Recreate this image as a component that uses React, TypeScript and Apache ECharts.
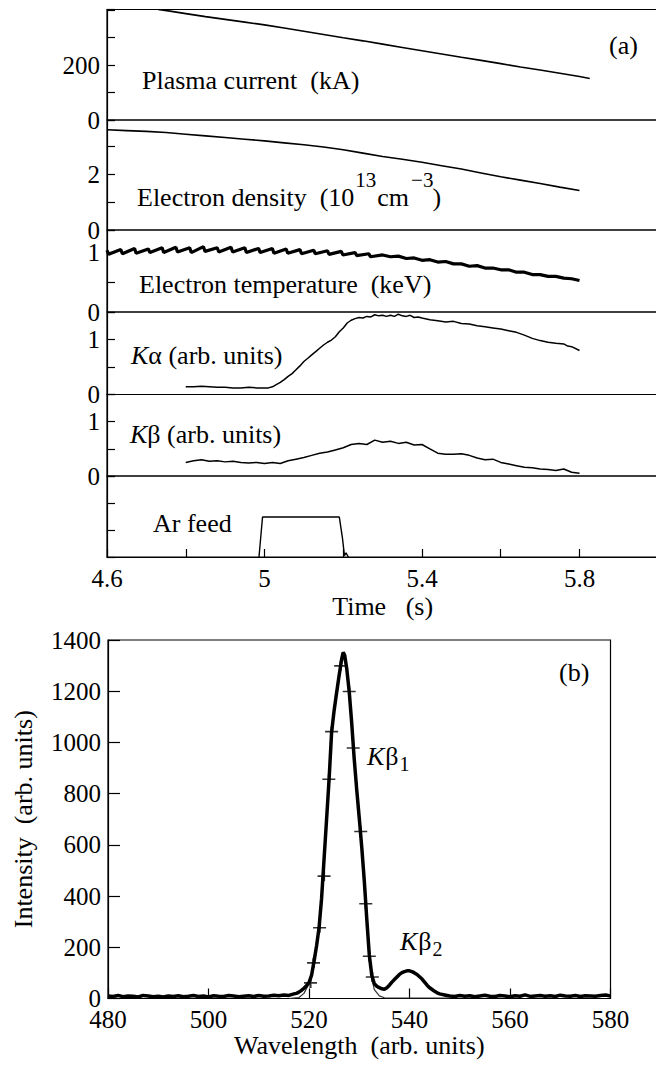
import React, { useEffect, useRef } from 'react';
import * as echarts from 'echarts';

// ---------- DATA ----------
const timeLabelsShown = [4.6, 5, 5.4, 5.8];

const plasmaCurrent: [number, number][] = [
  [4.73, 402], [4.76, 396], [4.8, 387], [4.85, 376], [4.9, 366], [4.95, 356], [5.0, 346],
  [5.05, 335], [5.1, 323], [5.15, 311], [5.2, 299], [5.25, 288], [5.3, 276], [5.35, 264],
  [5.4, 252], [5.45, 240], [5.5, 228], [5.55, 217], [5.6, 205], [5.65, 193], [5.7, 182],
  [5.75, 170], [5.8, 158], [5.826, 151],
];

const electronDensity: [number, number][] = [
  [4.6, 3.6], [4.65, 3.57], [4.7, 3.54], [4.75, 3.5], [4.8, 3.44], [4.85, 3.38], [4.9, 3.32],
  [4.95, 3.26], [5.0, 3.2], [5.05, 3.13], [5.1, 3.06], [5.15, 2.98], [5.2, 2.88], [5.25, 2.76],
  [5.3, 2.64], [5.35, 2.54], [5.4, 2.43], [5.45, 2.31], [5.5, 2.19], [5.55, 2.05], [5.6, 1.91],
  [5.65, 1.79], [5.7, 1.67], [5.75, 1.54], [5.8, 1.42],
];

const electronTemp: [number, number][] = [
  [4.6, 1.04], [4.604, 0.97], [4.635, 1.05], [4.639, 0.98], [4.67, 1.07], [4.674, 0.99],
  [4.705, 1.06], [4.709, 1.0], [4.74, 1.08], [4.744, 1.0], [4.775, 1.09], [4.779, 1.01],
  [4.81, 1.08], [4.814, 1.0], [4.845, 1.1], [4.849, 1.02], [4.88, 1.08], [4.884, 1.01],
  [4.915, 1.09], [4.919, 1.01], [4.95, 1.08], [4.954, 1.0], [4.985, 1.07], [4.989, 1.0],
  [5.02, 1.07], [5.024, 0.99], [5.055, 1.06], [5.059, 0.99], [5.09, 1.05], [5.094, 0.98],
  [5.125, 1.04], [5.129, 0.98], [5.16, 1.03], [5.164, 0.97], [5.195, 1.02], [5.199, 0.96],
  [5.23, 1.0], [5.234, 0.95], [5.265, 0.98], [5.269, 0.93], [5.3, 0.96], [5.32, 0.93],
  [5.34, 0.94], [5.36, 0.9], [5.38, 0.91], [5.4, 0.87], [5.42, 0.88], [5.44, 0.84],
  [5.46, 0.85], [5.48, 0.81], [5.5, 0.81], [5.52, 0.77], [5.54, 0.78], [5.56, 0.74],
  [5.58, 0.74], [5.6, 0.71], [5.62, 0.71], [5.64, 0.67], [5.66, 0.67], [5.68, 0.63],
  [5.7, 0.63], [5.72, 0.6], [5.74, 0.6], [5.76, 0.57], [5.78, 0.56], [5.8, 0.53],
];

const kAlpha: [number, number][] = [
  [4.8, 0.14], [4.82, 0.14], [4.84, 0.15], [4.86, 0.14], [4.88, 0.13], [4.9, 0.13],
  [4.92, 0.12], [4.94, 0.12], [4.96, 0.13], [4.98, 0.12], [5.0, 0.12], [5.01, 0.12],
  [5.02, 0.14], [5.03, 0.18], [5.04, 0.22], [5.05, 0.27], [5.06, 0.33], [5.07, 0.38],
  [5.08, 0.45], [5.09, 0.52], [5.1, 0.6], [5.11, 0.66], [5.12, 0.72], [5.13, 0.78],
  [5.14, 0.84], [5.15, 0.9], [5.16, 0.95], [5.17, 0.99], [5.18, 1.05], [5.19, 1.14],
  [5.2, 1.21], [5.21, 1.3], [5.22, 1.35], [5.23, 1.38], [5.24, 1.4], [5.25, 1.39],
  [5.26, 1.42], [5.27, 1.41], [5.28, 1.45], [5.29, 1.43], [5.3, 1.44], [5.31, 1.42],
  [5.32, 1.44], [5.33, 1.42], [5.34, 1.46], [5.35, 1.43], [5.36, 1.42], [5.37, 1.44],
  [5.38, 1.4], [5.39, 1.41], [5.4, 1.39], [5.42, 1.36], [5.44, 1.34], [5.46, 1.32],
  [5.48, 1.33], [5.5, 1.29], [5.52, 1.28], [5.54, 1.25], [5.56, 1.23], [5.58, 1.21],
  [5.6, 1.19], [5.62, 1.16], [5.64, 1.13], [5.66, 1.08], [5.68, 1.02], [5.7, 0.98],
  [5.72, 0.95], [5.74, 0.93], [5.76, 0.92], [5.77, 0.88], [5.78, 0.87], [5.8, 0.8],
];

const kBeta: [number, number][] = [
  [4.8, 0.25], [4.82, 0.28], [4.84, 0.3], [4.86, 0.27], [4.88, 0.28], [4.9, 0.26],
  [4.92, 0.27], [4.94, 0.25], [4.96, 0.24], [4.98, 0.25], [5.0, 0.23], [5.02, 0.25],
  [5.04, 0.23], [5.06, 0.28], [5.08, 0.31], [5.1, 0.34], [5.12, 0.38], [5.14, 0.42],
  [5.16, 0.44], [5.18, 0.48], [5.2, 0.52], [5.22, 0.58], [5.24, 0.6], [5.26, 0.58],
  [5.28, 0.66], [5.3, 0.62], [5.32, 0.64], [5.34, 0.6], [5.36, 0.62], [5.38, 0.57],
  [5.4, 0.58], [5.42, 0.5], [5.44, 0.42], [5.46, 0.4], [5.48, 0.4], [5.5, 0.41],
  [5.52, 0.38], [5.54, 0.33], [5.56, 0.3], [5.58, 0.31], [5.6, 0.25], [5.62, 0.22],
  [5.64, 0.19], [5.66, 0.16], [5.68, 0.15], [5.7, 0.13], [5.72, 0.12], [5.74, 0.1],
  [5.76, 0.13], [5.78, 0.07], [5.8, 0.05],
];

const arFeed: [number, number][] = [
  [4.986, 0], [4.995, 1.48], [5.19, 1.48], [5.198, 0.7], [5.203, 0.05], [5.207, 0.15], [5.213, 0],
];

const spectrum: [number, number][] = [
  [480, 10], [481, 8], [482, 12], [483, 7], [484, 10], [485, 9], [486, 6], [487, 12], [488, 10],
  [489, 7], [490, 9], [491, 6], [492, 10], [493, 8], [494, 11], [495, 7], [496, 9], [497, 12],
  [498, 8], [499, 10], [500, 6], [501, 11], [502, 9], [503, 8], [504, 12], [505, 10], [506, 7],
  [507, 9], [508, 11], [509, 8], [510, 12], [511, 9], [512, 10], [513, 13], [514, 11], [515, 14],
  [516, 12], [517, 18], [517.5, 20], [518, 25], [518.5, 32], [519, 40], [519.5, 50], [520, 62],
  [520.5, 90], [521, 145], [521.5, 205], [522, 276], [522.5, 390], [523, 545], [523.5, 700],
  [524, 857], [524.5, 1040], [525, 1125], [525.5, 1195], [526, 1262], [526.5, 1325],
  [526.8, 1352], [527.1, 1340], [527.5, 1290], [528, 1199], [528.5, 1075], [529, 935],
  [529.5, 815], [530, 705], [530.5, 590], [531, 460], [531.5, 310], [532, 170], [532.5, 90],
  [533, 58], [533.5, 48], [534, 42], [534.5, 38], [535, 36], [535.5, 42], [536, 52],
  [536.5, 64], [537, 74], [537.5, 84], [538, 94], [538.5, 101], [539, 105], [539.5, 108],
  [540, 108], [540.5, 105], [541, 100], [541.5, 94], [542, 85], [542.5, 76], [543, 64],
  [543.5, 52], [544, 42], [544.5, 35], [545, 28], [545.5, 22], [546, 18], [547, 14],
  [548, 10], [549, 8], [550, 12], [551, 9], [552, 11], [553, 7], [554, 10], [555, 13], [556, 9],
  [557, 8], [558, 12], [559, 10], [560, 7], [561, 11], [562, 9], [563, 14], [564, 8], [565, 10],
  [566, 12], [567, 9], [568, 11], [569, 8], [570, 13], [571, 10], [572, 9], [573, 12], [574, 8],
  [575, 11], [576, 10], [577, 9], [578, 12], [579, 14], [580, 10],
];

const kb1Fit: [number, number][] = [
  [516, 0], [518, 4], [519, 20], [520, 58], [520.5, 88], [521, 142], [521.5, 205], [522, 276],
  [522.5, 390], [523, 545], [523.5, 700], [524, 857], [524.5, 1040], [525, 1125], [525.5, 1195],
  [526, 1262], [526.5, 1325], [526.8, 1350], [527.1, 1338], [527.5, 1290], [528, 1199],
  [528.5, 1075], [529, 935], [529.5, 815], [530, 705], [530.5, 590], [531, 460], [531.5, 310],
  [532, 165], [532.5, 81], [533, 35], [534, 10], [535, 3], [548, 2],
];

const fitMarkers: [number, number][] = [
  [520.3, 61], [520.9, 139], [522.1, 276], [523.0, 478], [523.95, 856], [524.5, 1042],
  [526.3, 1299], [528.0, 1199], [528.8, 978], [530.3, 652], [531.3, 370], [532.0, 165],
  [532.6, 84],
];

// ---------- LAYOUT ----------
const FONT = 'Liberation Serif';
const A_LEFT = 107;
const A_WIDTH = 551.25;

const panels = [
  { top: 9.5, height: 110.5, max: 402, interval: 100, labels: [0, 200], data: plasmaCurrent, lw: 1.6 },
  { top: 120, height: 110, max: 3.95, interval: 1, labels: [0, 2], data: electronDensity, lw: 1.6 },
  { top: 230, height: 82, max: 1.38, interval: 0.5, labels: [0, 1], data: electronTemp, lw: 3.2 },
  { top: 312, height: 82.5, max: 1.5, interval: 0.5, labels: [0, 1], data: kAlpha, lw: 1.5 },
  { top: 394.5, height: 81.5, max: 1.5, interval: 0.5, labels: [0, 1], data: kBeta, lw: 1.5 },
  { top: 476, height: 81, max: 3, interval: 1, labels: [] as number[], data: arFeed, lw: 1.4 },
];

const pick = (list: number[], v: number) => {
  const m = list.find((l) => Math.abs(l - v) < 1e-6);
  return m === undefined ? '' : String(m);
};

export default function App() {
  const ref = useRef<HTMLDivElement>(null);

  useEffect(() => {
    if (!ref.current) return;
    const chart = echarts.init(ref.current, null, { renderer: 'svg' });

    const ctx = document.createElement('canvas').getContext('2d')!;
    const measure = (s: string, size: number, italic = false) => {
      ctx.font = `${italic ? 'italic ' : ''}${size}px Liberation Serif`;
      return ctx.measureText(s).width;
    };

    const txt = (x: number, y: number, s: string, size = 26, italic = false, rich?: any) => ({
      type: 'text',
      x,
      y,
      silent: true,
      z: 100,
      style: {
        text: s,
        fill: '#000',
        fontSize: size,
        fontFamily: FONT,
        fontStyle: italic ? 'italic' : 'normal',
        align: 'left',
        verticalAlign: 'middle',
        textAlign: 'left',
        textVerticalAlign: 'middle',
        ...(rich ? { rich } : {}),
      },
    });

    const richK = { i: { fontStyle: 'italic', fontSize: 26, fontFamily: FONT, fill: '#000' } };

    // Electron density label with superscripts
    const dX0 = 137;
    const dA = 'Electron density  (10';
    const wA = measure(dA, 26);
    const s1X = dX0 + wA + 1;
    const cmX = s1X + measure('13', 21) + 1;
    const s2X = cmX + measure('cm', 26) + 2;
    const cpX = s2X + measure('\u22123', 21) - 1;

    const kb = (x: number, yc: number, sub: string) => {
      const wK = measure('K', 26, true);
      const wB = measure('\u03b2', 26);
      return [
        txt(x, yc, 'K', 26, true),
        txt(x + wK + 1, yc, '\u03b2', 26),
        txt(x + wK + wB + 2, yc + 8, sub, 20),
      ];
    };

    const graphics: any[] = [
      txt(609, 45, '(a)'),
      txt(142, 80, 'Plasma current  (kA)'),
      txt(dX0, 197, dA),
      txt(s1X, 180, '13', 21),
      txt(cmX, 197, 'cm'),
      txt(s2X, 180, '\u22123', 21),
      txt(cpX, 197, ')'),
      txt(139, 284, 'Electron temperature  (keV)'),
      txt(131, 355, '{i|K}\u03b1 (arb. units)', 26, false, richK),
      txt(130, 434, '{i|K}\u03b2 (arb. units)', 26, false, richK),
      txt(153, 523, 'Ar feed'),
      txt(559, 672, '(b)'),
      ...kb(367, 756, '1'),
      ...kb(400, 941, '2'),
    ];

    const grid: any[] = panels.map((p) => ({
      left: A_LEFT,
      top: p.top,
      width: A_WIDTH,
      height: p.height,
      show: true,
      borderColor: '#000',
      borderWidth: 1.2,
      backgroundColor: 'transparent',
      outerBoundsMode: 'none',
      containLabel: false,
    }));
    grid.push({
      left: 108,
      top: 640,
      width: 502.5,
      height: 358.5,
      show: true,
      borderColor: '#000',
      borderWidth: 1.2,
      backgroundColor: 'transparent',
      outerBoundsMode: 'none',
      containLabel: false,
    });

    const axisLabelBase = { color: '#000', fontFamily: FONT, fontSize: 25 };
    const blackLine = { color: '#000', width: 1.2 };

    const xAxis: any[] = panels.map((_, i) => {
      const last = i === panels.length - 1;
      return {
        type: 'value',
        gridIndex: i,
        min: 4.6,
        max: 6.0,
        interval: 0.2,
        splitLine: { show: false },
        axisLine: { show: last, lineStyle: blackLine },
        axisTick: { show: last, inside: true, length: 8, lineStyle: blackLine },
        axisLabel: {
          show: last,
          ...axisLabelBase,
          margin: 9,
          formatter: (v: number) => pick(timeLabelsShown, v),
        },
        name: last ? 'Time   (s)' : '',
        nameLocation: 'middle',
        nameGap: 36,
        nameTextStyle: { color: '#000', fontFamily: FONT, fontSize: 26 },
      };
    });
    xAxis.push({
      type: 'value',
      gridIndex: 6,
      min: 480,
      max: 580,
      interval: 20,
      splitLine: { show: false },
      axisLine: { show: true, lineStyle: blackLine },
      axisTick: { show: true, inside: true, length: 10, lineStyle: blackLine },
      axisLabel: { ...axisLabelBase, margin: 8, formatter: (v: number) => String(v) },
      name: 'Wavelength  (arb. units)',
      nameLocation: 'middle',
      nameGap: 34,
      nameTextStyle: { color: '#000', fontFamily: FONT, fontSize: 26 },
    });

    const yAxis: any[] = panels.map((p, i) => ({
      type: 'value',
      gridIndex: i,
      min: 0,
      max: p.max,
      interval: p.interval,
      splitLine: { show: false },
      axisLine: { show: true, lineStyle: blackLine },
      axisTick: { show: true, inside: true, length: 8, lineStyle: blackLine },
      axisLabel: {
        ...axisLabelBase,
        margin: 7,
        showMinLabel: true,
        showMaxLabel: true,
        formatter: (v: number) => pick(p.labels, v),
      },
    }));
    yAxis.push({
      type: 'value',
      gridIndex: 6,
      min: 0,
      max: 1400,
      interval: 200,
      splitLine: { show: false },
      axisLine: { show: true, lineStyle: blackLine },
      axisTick: { show: true, inside: true, length: 12, lineStyle: blackLine },
      axisLabel: { ...axisLabelBase, margin: 7, formatter: (v: number) => String(v) },
      name: 'Intensity  (arb. units)',
      nameLocation: 'middle',
      nameGap: 72,
      nameTextStyle: { color: '#000', fontFamily: FONT, fontSize: 26 },
    });

    const series: any[] = panels.map((p, i) => ({
      type: 'line',
      xAxisIndex: i,
      yAxisIndex: i,
      data: p.data,
      showSymbol: false,
      silent: true,
      lineStyle: { color: '#000', width: p.lw },
    }));
    series.push(
      {
        type: 'line',
        xAxisIndex: 6,
        yAxisIndex: 6,
        data: kb1Fit,
        showSymbol: false,
        silent: true,
        lineStyle: { color: '#333', width: 1.2 },
        z: 2,
      },
      {
        type: 'line',
        xAxisIndex: 6,
        yAxisIndex: 6,
        data: spectrum,
        showSymbol: false,
        silent: true,
        lineStyle: { color: '#000', width: 3.5 },
        z: 3,
      },
      {
        type: 'scatter',
        xAxisIndex: 6,
        yAxisIndex: 6,
        data: fitMarkers,
        symbol: 'path://M0,4.2 H10 V5.8 H0 Z M4.2,0 H5.8 V10 H4.2 Z',
        symbolSize: [13, 10],
        itemStyle: { color: '#000' },
        silent: true,
        z: 4,
      }
    );

    chart.setOption({
      animation: false,
      backgroundColor: '#fff',
      grid,
      xAxis,
      yAxis,
      series,
      graphic: { elements: graphics },
    });

    return () => chart.dispose();
  }, []);

  return (
    <div
      ref={ref}
      style={{ position: 'fixed', left: 0, top: 0, width: 656, height: 1066, background: '#fff' }}
    />
  );
}
